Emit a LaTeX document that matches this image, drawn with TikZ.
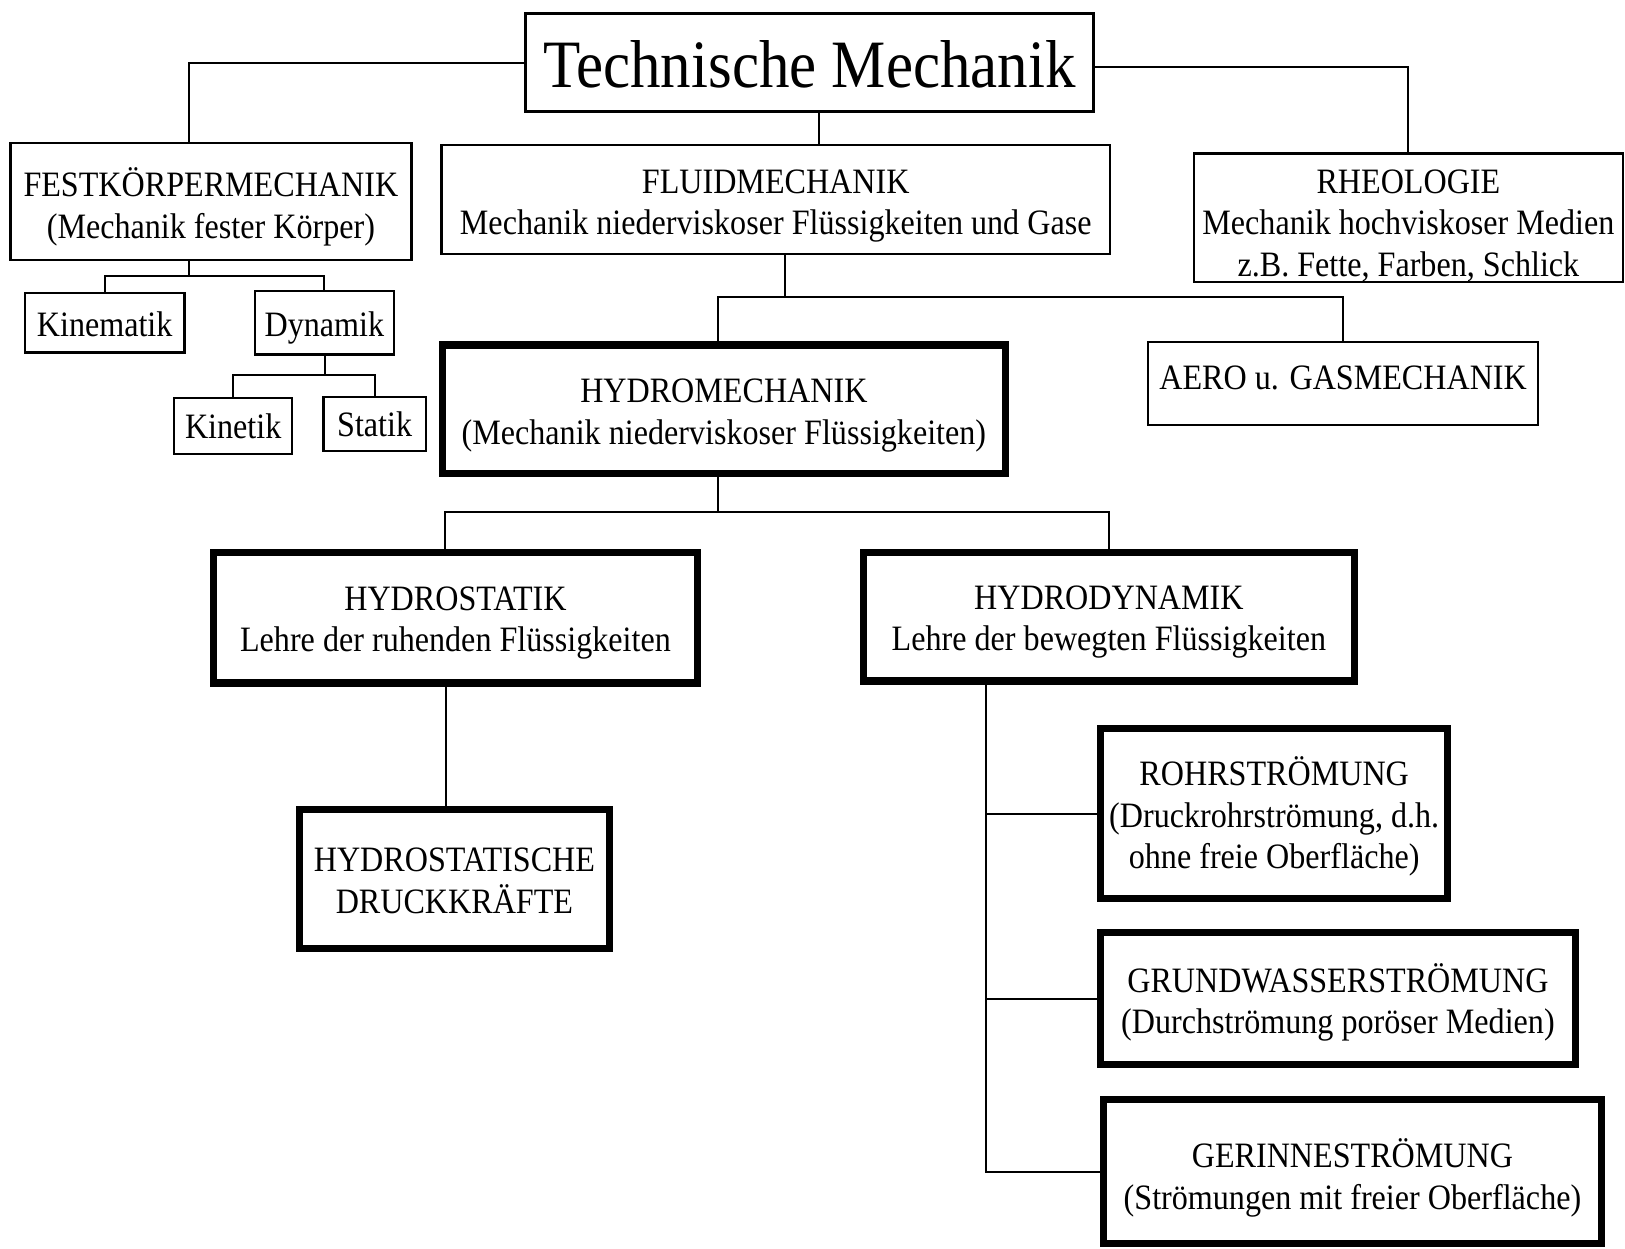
\documentclass[tikz,border=0pt]{standalone}
\usepackage{fontspec}
\setmainfont{Liberation Serif}[FakeStretch=0.9]
\newcommand\bx[8]{%
  \pgfmathsetmacro\bxw{(#4-#2)*0.02}%
  \pgfmathsetmacro\bxh{(#5-#3)*0.02}%
  \pgfmathsetmacro\bxs{-(#8)*0.567}%
  \node[#6,minimum width=\bxw cm,minimum height=\bxh cm] (#1) at ({(#2+#4)/2},{(#3+#5)/2}) {};
  \node[txt,#6,draw=none,yshift=\bxs pt] (#1t) at (#1.center) {#7};}
\begin{document}
\begin{tikzpicture}[x=0.02cm,y=-0.02cm,
  txt/.style={align=center, inner sep=0pt},
  thinbox/.style={draw, line width=1.3pt, font=\fontsize{19.6}{22.7}\selectfont},
  titlebox/.style={draw, line width=1.6pt, font=\fontsize{37.2}{40}\selectfont},
  thickbox/.style={draw, line width=4pt, font=\fontsize{19.6}{22.7}\selectfont},
  conn/.style={line width=1.1pt}]
\useasboundingbox (0,0) rectangle (1568,1205);
\bx{title}{507}{13}{1055}{108}{titlebox}{Technische Mechanik}{2}
\bx{fest}{10}{138}{397}{251}{thinbox}{FESTKÖRPERMECHANIK\\(Mechanik fester Körper)}{5}
\bx{fluid}{426}{140}{1071}{245}{thinbox}{FLUIDMECHANIK\\Mechanik niederviskoser Flüssigkeiten und Gase}{6}
\bx{rheo}{1152}{148}{1566}{272}{thinbox}{RHEOLOGIE\\Mechanik hochviskoser Medien\\z.B. Fette, Farben, Schlick}{8}
\bx{kin}{24}{283}{178}{340}{thinbox}{Kinematik}{1}
\bx{dyn}{246}{281}{380}{342}{thinbox}{Dynamik}{5}
\bx{kinet}{168}{384}{282}{438}{thinbox}{Kinetik}{0}
\bx{stat}{312}{383}{411}{435}{thinbox}{Statik}{0}
\bx{hm}{427}{333}{970}{457}{thickbox}{HYDROMECHANIK\\(Mechanik niederviskoser Flüssigkeiten)}{6}
\bx{aero}{1108}{330}{1484}{410}{thinbox}{AERO u. GASMECHANIK}{-5}
\bx{hs}{206}{533}{673}{659}{thickbox}{HYDROSTATIK\\Lehre der ruhenden Flüssigkeiten}{5}
\bx{hd}{833}{533}{1307}{657}{thickbox}{HYDRODYNAMIK\\Lehre der bewegten Flüssigkeiten}{5}
\bx{dk}{289}{781}{588}{915}{thickbox}{HYDROSTATISCHE\\DRUCKKRÄFTE}{2}
\bx{rohr}{1062}{703}{1397}{867}{thickbox}{ROHRSTRÖMUNG\\(Druckrohrströmung, d.h.\\ohne freie Oberfläche)}{3}
\bx{grund}{1062}{900}{1520}{1027}{thickbox}{GRUNDWASSERSTRÖMUNG\\(Durchströmung poröser Medien)}{4}
\bx{ger}{1065}{1061}{1545}{1200}{thickbox}{GERINNESTRÖMUNG\\(Strömungen mit freier Oberfläche)}{6}
% connectors
\coordinate (xa) at (182,0);
\draw[conn] (title.west) -| (fest.north -| xa);
\coordinate (yr) at (0,65);
\draw[conn] (title.east |- yr) -| (rheo.north);
\coordinate (xb) at (790,0);
\draw[conn] (title.south -| xb) -- (fluid.north -| xb);
\coordinate (ja) at (182,266);
\draw[conn] (fest.south -| ja) -- (ja);
\draw[conn] (kin.north) -- (kin.north |- ja) -- (dyn.north |- ja) -- (dyn.north);
\coordinate (jb) at (314,362);
\draw[conn] (dyn.south -| jb) -- (jb);
\draw[conn] (kinet.north) -- (kinet.north |- jb) -- (stat.north |- jb) -- (stat.north);
\coordinate (jc) at (757,287);
\draw[conn] (fluid.south -| jc) -- (jc);
\coordinate (xd) at (693,0);
\draw[conn] (hm.north -| xd) -- (xd |- jc) -- (aero.north |- jc) -- (aero.north);
\coordinate (jd) at (693,494);
\draw[conn] (hm.south -| jd) -- (jd);
\coordinate (xe) at (429,0);
\draw[conn] (hs.north -| xe) -- (xe |- jd) -- (hd.north |- jd) -- (hd.north);
\coordinate (xf) at (430,0);
\draw[conn] (hs.south -| xf) -- (dk.north -| xf);
\coordinate (xg) at (951,0);
\draw[conn] (hd.south -| xg) -- (xg |- ger.west) -- (ger.west);
\draw[conn] (xg |- rohr.west) -- (rohr.west);
\draw[conn] (xg |- grund.west) -- (grund.west);
\end{tikzpicture}
\end{document}
